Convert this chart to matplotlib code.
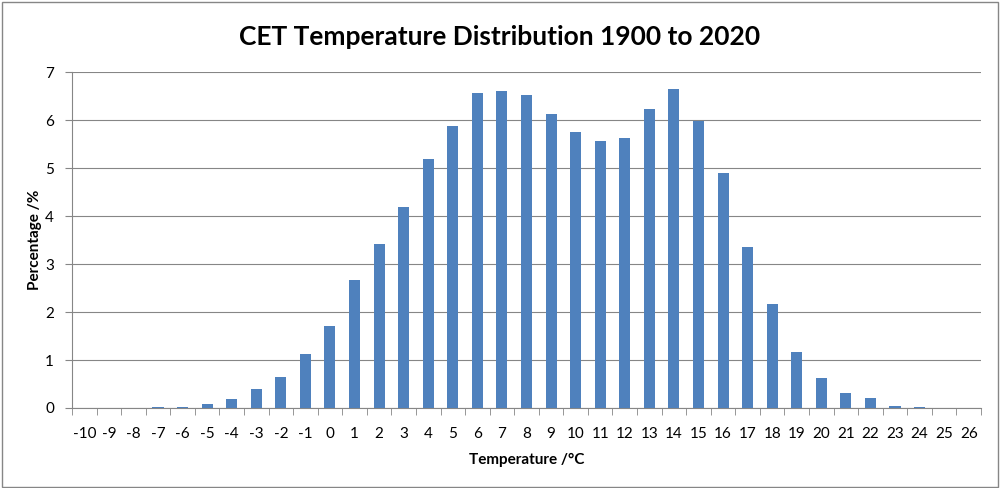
import matplotlib
matplotlib.use("Agg")
import matplotlib.pyplot as plt
import numpy as np

plt.rcParams["font.family"] = ["Lato", "DejaVu Sans"]

temps = list(range(-10, 27))
pct = [0, 0, 0, 0.03, 0.03, 0.08, 0.19, 0.39, 0.65, 1.13,
       1.70, 2.67, 3.41, 4.18, 5.19, 5.87, 6.56, 6.61, 6.53, 6.13,
       5.75, 5.57, 5.62, 6.24, 6.66, 5.99, 4.89, 3.35, 2.16, 1.17,
       0.63, 0.31, 0.21, 0.04, 0.02, 0, 0]

BAR = "#4F81BD"
GRID = "#868686"

fig = plt.figure(figsize=(10, 4.88), dpi=100)
ax = fig.add_axes([0.072, 0.164, 0.909, 0.688])

x = np.arange(len(temps))
ax.bar(x, pct, width=0.45, color=BAR, zorder=3)

ax.set_xlim(-0.5, len(temps) - 0.5)
ax.set_ylim(0, 7)
ax.set_yticks(range(0, 8))
ax.set_xticks(x)
ax.set_xticklabels([str(t) for t in temps])
ax.set_xticks(np.arange(-0.5, len(temps)), minor=True)
ax.tick_params(axis="x", which="major", length=0, labelsize=11, pad=14, colors="#000000")
ax.tick_params(axis="x", which="minor", length=5, color=GRID)
ax.tick_params(axis="y", length=5, color=GRID, labelsize=11, pad=8)
ax.grid(axis="y", color=GRID, linewidth=0.8, zorder=0)

for s in ["top", "right"]:
    ax.spines[s].set_visible(False)
for s in ["left", "bottom"]:
    ax.spines[s].set_color(GRID)

ax.set_xlabel("Temperature /\u00b0C", fontsize=11, fontweight="bold", labelpad=8)
ax.set_ylabel("Percentage /%", fontsize=11, fontweight="bold", labelpad=2)
fig.text(0.5, 0.925, "CET Temperature Distribution 1900 to 2020", ha="center",
         va="center", fontsize=19, fontweight="bold")

fig.patches.append(plt.Rectangle((0.002, 0.003), 0.996, 0.993, transform=fig.transFigure,
                                 fill=False, edgecolor=GRID, linewidth=1))

fig.savefig("out.png", dpi=100)
